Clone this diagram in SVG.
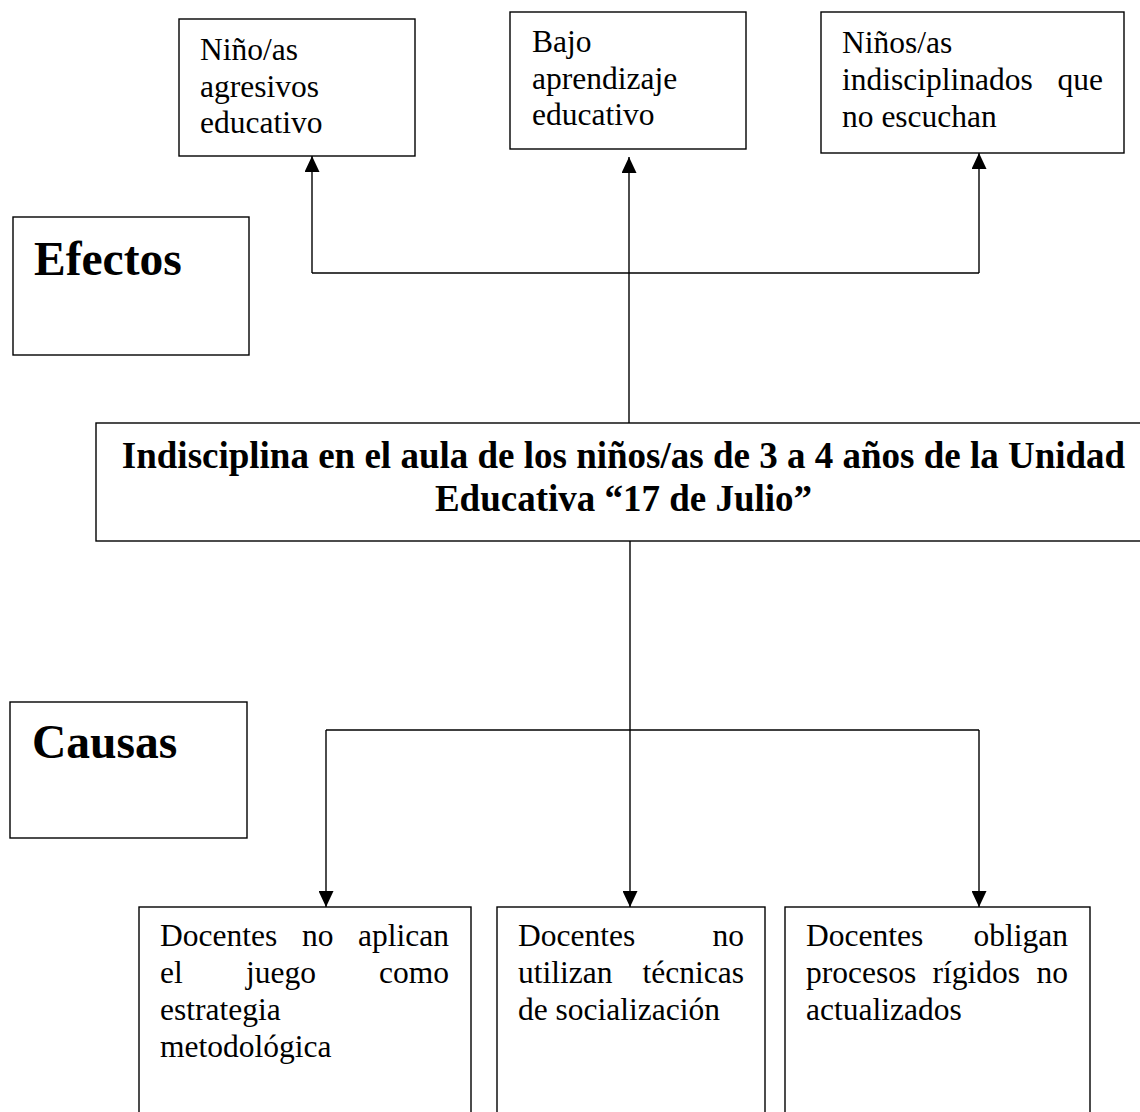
<svg xmlns="http://www.w3.org/2000/svg" width="1140" height="1112" viewBox="0 0 1140 1112">
  <style>
    .box { fill: #ffffff; stroke: #000000; stroke-width: 1.4; }
    .t { font-family: "Liberation Serif", "Times New Roman", serif; font-size: 31.5px; fill: #000000; }
    .h { font-family: "Liberation Serif", "Times New Roman", serif; font-size: 47.5px; font-weight: bold; fill: #000000; }
    .title { font-family: "Liberation Serif", "Times New Roman", serif; font-size: 37px; font-weight: bold; fill: #000000; text-anchor: middle; }
    .e { text-anchor: end; }
    .c { fill: none; stroke: #000000; stroke-width: 1.4; }
  </style>
  <defs>
    <marker id="arrow" markerUnits="userSpaceOnUse" markerWidth="16" markerHeight="15" refX="16" refY="7.5" orient="auto">
      <path d="M0,0 L16,7.5 L0,15 Z" fill="#000000"/>
    </marker>
  </defs>
  <rect width="1140" height="1112" fill="#ffffff"/>

  <g id="connectors">
    <!-- effects -->
    <line class="c" x1="629" y1="423" x2="629" y2="157" marker-end="url(#arrow)"/>
    <polyline class="c" points="312,273 979,273"/>
    <line class="c" x1="312" y1="273" x2="312" y2="156" marker-end="url(#arrow)"/>
    <line class="c" x1="979" y1="273" x2="979" y2="153" marker-end="url(#arrow)"/>
    <!-- causes -->
    <line class="c" x1="630" y1="541" x2="630" y2="907" marker-end="url(#arrow)"/>
    <polyline class="c" points="326,730 979,730"/>
    <line class="c" x1="326" y1="730" x2="326" y2="907" marker-end="url(#arrow)"/>
    <line class="c" x1="979" y1="730" x2="979" y2="907" marker-end="url(#arrow)"/>
  </g>

  <g id="effect1">
    <rect class="box" x="179" y="19" width="236" height="137"/>
    <text class="t" x="200" y="60">Niño/as</text>
    <text class="t" x="200" y="96.5">agresivos</text>
    <text class="t" x="200" y="133">educativo</text>
  </g>

  <g id="effect2">
    <rect class="box" x="510" y="12" width="236" height="137"/>
    <text class="t" x="532" y="52">Bajo</text>
    <text class="t" x="532" y="88.5">aprendizaje</text>
    <text class="t" x="532" y="125">educativo</text>
  </g>

  <g id="effect3">
    <rect class="box" x="821" y="12" width="303" height="141"/>
    <text class="t" x="842" y="53">Niños/as</text>
    <text class="t" x="842" y="90">indisciplinados</text>
    <text class="t e" x="1103" y="90">que</text>
    <text class="t" x="842" y="127">no escuchan</text>
  </g>

  <g id="efectos-label">
    <rect class="box" x="13" y="217" width="236" height="138"/>
    <text class="h" x="34" y="275">Efectos</text>
  </g>

  <g id="problem">
    <rect class="box" x="96" y="423" width="1055" height="118"/>
    <text class="title" x="623.5" y="468">Indisciplina en el aula de los niños/as de 3 a 4 años de la Unidad</text>
    <text class="title" x="623.5" y="511">Educativa “17 de Julio”</text>
  </g>

  <g id="causas-label">
    <rect class="box" x="10" y="702" width="237" height="136"/>
    <text class="h" x="32" y="758">Causas</text>
  </g>

  <g id="cause1">
    <rect class="box" x="139" y="907" width="332" height="215"/>
    <text class="t" x="160" y="946">Docentes</text>
    <text class="t" x="302" y="946">no</text>
    <text class="t e" x="449" y="946">aplican</text>
    <text class="t" x="160" y="983">el</text>
    <text class="t" x="246" y="983">juego</text>
    <text class="t e" x="449" y="983">como</text>
    <text class="t" x="160" y="1020">estrategia</text>
    <text class="t" x="160" y="1057">metodológica</text>
  </g>

  <g id="cause2">
    <rect class="box" x="497" y="907" width="268" height="215"/>
    <text class="t" x="518" y="946">Docentes</text>
    <text class="t e" x="744" y="946">no</text>
    <text class="t" x="518" y="983">utilizan</text>
    <text class="t e" x="744" y="983">técnicas</text>
    <text class="t" x="518" y="1020">de socialización</text>
  </g>

  <g id="cause3">
    <rect class="box" x="785" y="907" width="305" height="215"/>
    <text class="t" x="806" y="946">Docentes</text>
    <text class="t e" x="1068" y="946">obligan</text>
    <text class="t" x="806" y="983">procesos</text>
    <text class="t" x="932.6" y="983">rígidos</text>
    <text class="t e" x="1068" y="983">no</text>
    <text class="t" x="806" y="1020">actualizados</text>
  </g>
</svg>
